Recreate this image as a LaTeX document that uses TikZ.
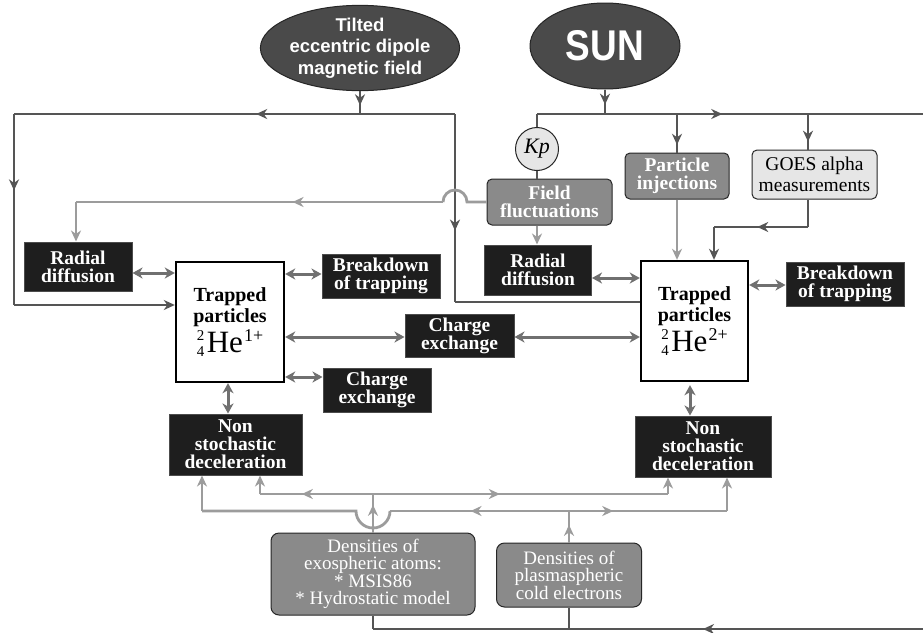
\documentclass[tikz,border=0pt]{standalone}
\usepackage{fontspec}
\usepackage{graphicx}
\setmainfont{Liberation Serif}
\setsansfont{Liberation Sans}
\usetikzlibrary{arrows.meta,shapes.geometric,decorations.markings}
\definecolor{ellfill}{HTML}{4A4A4A}
\definecolor{boxblk}{HTML}{1E1E1E}
\definecolor{boxgry}{HTML}{8A8A8A}
\definecolor{boxlgt}{HTML}{E6E6E6}
\definecolor{ldark}{HTML}{555555}
\definecolor{lgray}{HTML}{9C9C9C}
\definecolor{ldbl}{HTML}{707070}
\newcommand{\heion}[1]{\raisebox{-4pt}{\fontsize{15}{12}\selectfont\shortstack{2\\[3pt]4}}\kern2.5pt He\kern1pt\raisebox{11pt}{\fontsize{18}{18}\selectfont #1}}
\tikzset{
  myt/.tip={Stealth[length=11pt,width=10pt,inset=3.5pt]},
  dbt/.tip={Stealth[length=10pt,width=11pt,inset=3pt]},
  sz/.style 2 args={minimum width=#1pt, minimum height=#2pt},
  ell/.style={ellipse, draw=black!85, line width=1pt, fill=ellfill, text=white, inner sep=0pt, align=center},
  blk/.style={rectangle, draw=black!70, line width=1pt, fill=boxblk, text=white, inner sep=0pt, align=center, font=\bfseries\fontsize{19.5}{18}\selectfont},
  gry/.style={rectangle, rounded corners=5pt, draw=black!85, line width=1pt, fill=boxgry, text=white, inner sep=0pt, align=center},
  lgt/.style={rectangle, rounded corners=5pt, draw=black!85, line width=1pt, fill=boxlgt, text=black, inner sep=0pt, align=center},
  trap/.style={rectangle, draw=black, line width=2.4pt, fill=white, inner sep=0pt, align=center, font=\bfseries\fontsize{20}{21}\selectfont},
  dk/.style={draw=ldark, line width=2.8pt},
  gr/.style={draw=lgray, line width=2.8pt},
  dbl/.style={draw=ldbl, line width=3pt, dbt-dbt},
  marr/.style={postaction={decorate}, decoration={markings, mark=at position #1 with {\arrow{myt}}}}
}
\begin{document}
\begin{tikzpicture}[x=1pt,y=-1pt]
\useasboundingbox[fill=white] (0,0) rectangle (923,632);

% ---------- nodes ----------
\node[ell, sz={166}{80}, font=\sffamily\bfseries\fontsize{18.5}{21.5}\selectfont] (tilt) at (360,48) {Tilted\\eccentric dipole\\magnetic field};
\node[ell, sz={150}{86}, font=\sffamily\bfseries\fontsize{43}{43}\selectfont] (sun) at (605,46) {\scalebox{0.86}[1]{SUN}};
\node[circle, draw=black!85, line width=1pt, fill=boxlgt, minimum size=43pt, inner sep=0pt, font=\itshape\fontsize{22}{22}\selectfont] (kp) at (537,149) {Kp};
\node[gry, sz={125}{46}, font=\bfseries\fontsize{19.5}{18}\selectfont] (ff) at (549.5,202) {Field\\fluctuations};
\node[gry, sz={104}{46}, font=\bfseries\fontsize{19.5}{18}\selectfont] (pi) at (677,176) {Particle\\injections};
\node[lgt, sz={125}{49}, font=\fontsize{19.5}{21}\selectfont] (goes) at (814.5,174.5) {GOES alpha\\measurements};

\node[blk, sz={108}{49}] (rd1) at (78,266.5) {Radial\\diffusion};
\node[blk, sz={107}{50}] (rd2) at (538,270) {Radial\\diffusion};
\node[trap, sz={108}{120}] (tp1) at (230,322) {Trapped\\particles\\[2pt]{\mdseries\fontsize{31}{31}\selectfont \heion{1+}}};
\node[trap, sz={107}{120}] (tp2) at (694.5,321) {Trapped\\particles\\[2pt]{\mdseries\fontsize{31}{31}\selectfont \heion{2+}}};
\node[blk, sz={118}{44}] (bd1) at (381,276) {Breakdown\\of trapping};
\node[blk, sz={118}{44}] (bd2) at (845,284) {Breakdown\\of trapping};
\node[blk, sz={109}{43}] (ce1) at (459.5,335.5) {Charge\\exchange};
\node[blk, sz={108}{44}] (ce2) at (377,390) {Charge\\exchange};
\node[blk, sz={133}{61}] (ns1) at (235.5,444.5) {Non\\stochastic\\deceleration};
\node[blk, sz={136}{61}] (ns2) at (703,446.5) {Non\\stochastic\\deceleration};
\node[gry, rounded corners=8pt, sz={204}{82}, font=\fontsize{19}{17.5}\selectfont] (dx) at (373,574) {Densities of\\exospheric atoms:\\* MSIS86\\* Hydrostatic model};
\node[gry, rounded corners=8pt, sz={145}{64}, font=\fontsize{19}{17.5}\selectfont] (dp) at (569,575) {Densities of\\plasmaspheric\\cold electrons};

% ---------- dipole field lines ----------
\coordinate (d0) at (360,114);
\coordinate (dL) at (14,114);
\coordinate (dLb) at (14,305);
\coordinate (dR) at (455,114);
\coordinate (dRb) at (455,302);
\draw[dk, marr=0.62] (tilt.south) -- (d0);
\draw[dk, marr=0.3] (d0) -- (dL);
\draw[dk, marr=0.4] (dL) -- (dLb);
\draw[dk, -myt] (dLb) -- (dLb -| tp1.west);
\draw[dk] (d0) -- (dR);
\draw[dk, marr=0.62] (dR) -- (dRb);
\draw[dk] (dRb) -- (dRb -| tp2.west);

% ---------- sun lines ----------
\coordinate (s0) at (605,114);
\coordinate (sL) at (537,114);
\coordinate (sR) at (923,114);
\coordinate (sP) at (677,114);
\coordinate (sG) at (808,114);
\coordinate (g1) at (808,227);
\coordinate (g2) at (714,227);
\draw[dk, marr=0.62] (sun.south) -- (s0);
\draw[dk, marr=0.48] (sL) -- (sR);
\draw[dk] (sL) -- (kp.north);
\draw[dk, marr=0.8] (sP) -- (pi.north);
\draw[dk, marr=0.78] (sG) -- (sG |- goes.north);
\draw[dk] (kp.south) -- (kp |- ff.north);
\draw[dk] (sG |- goes.south) -- (g1);
\draw[dk, marr=0.54] (g1) -- (g2);
\draw[dk, -myt] (g2) -- (g2 |- tp2.north);

\coordinate (b0) at (923,629);
\coordinate (bX) at (373,629);
\coordinate (bP) at (569,629);
\draw[dk, marr=0.4] (b0) -- (bX);
\draw[dk] (bX) -- (dx.south);
\draw[dk] (bP) -- (dp.south);

% ---------- field fluctuations ----------
\coordinate (h1) at (467,202);
\coordinate (h2) at (443,202);
\coordinate (f2) at (76,202);
\draw[gr] (ff.west) -- (h1) arc[start angle=0, end angle=-180, radius=12];
\draw[gr, marr=0.41] (h2) -- (f2);
\draw[gr, -myt] (f2) -- (f2 |- rd1.north);
\draw[gr, -myt] (kp |- ff.south) -- (kp |- rd2.north);
\draw[gr, -myt] (pi.south) -- (pi |- tp2.north);

% ---------- densities ----------
\coordinate (u0) at (373,494);
\coordinate (uL) at (260,494);
\coordinate (uR) at (668,494);
\coordinate (l0) at (569,511);
\coordinate (lh1) at (390,511);
\coordinate (lL) at (202,511);
\coordinate (lR) at (727,511);
\draw[gr, marr=0.72] (dx.north) -- (u0);
\draw[gr, marr=0.63] (u0) -- (uL);
\draw[gr, -myt] (uL) -- (uL |- ns1.south);
\draw[gr, marr=0.43] (u0) -- (uR);
\draw[gr, -myt] (uR) -- (uR |- ns2.south);
\draw[gr, marr=0.56] (dp.north) -- (l0);
\draw[gr, marr=0.55] (l0) -- (lh1);
\draw[gr] (lh1) arc[start angle=0, end angle=180, radius=17] -- (lL);
\draw[gr, -myt] (lL) -- (lL |- ns1.south);
\draw[gr, marr=0.28] (l0) -- (lR);
\draw[gr, -myt] (lR) -- (lR |- ns2.south);

% ---------- two-way links ----------
\draw[dbl] (rd1.east |- 0,273) -- (tp1.west |- 0,273);
\draw[dbl] (tp1.east |- 0,274) -- (bd1.west |- 0,274);
\draw[dbl] (tp1.east |- 0,337) -- (ce1.west |- 0,337);
\draw[dbl] (ce1.east |- 0,337) -- (tp2.west |- 0,337);
\draw[dbl] (tp1.east |- 0,377) -- (ce2.west |- 0,377);
\draw[dbl] (228,0 |- tp1.south) -- (228,0 |- ns1.north);
\draw[dbl] (rd2.east |- 0,278) -- (tp2.west |- 0,278);
\draw[dbl] (tp2.east |- 0,285) -- (bd2.west |- 0,285);
\draw[dbl, shorten <=3pt] (690,0 |- tp2.south) -- (690,0 |- ns2.north);
\end{tikzpicture}
\end{document}
